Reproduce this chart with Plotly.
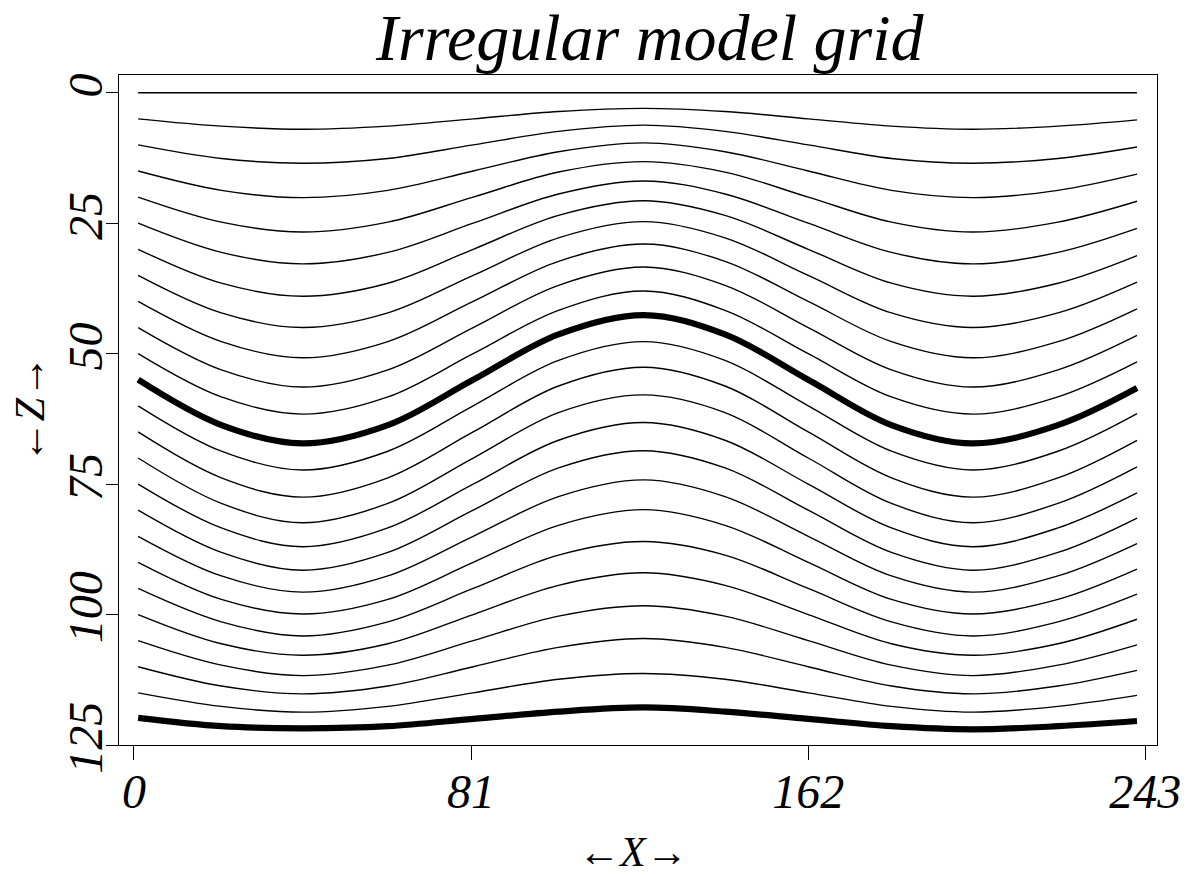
import plotly.graph_objects as go

# ---- data ----
x_samples = [1, 21, 40.5, 61, 81.5, 102, 122.5, 142, 162, 182, 201.5, 222, 241]

line_00 = [0.0, 0.0, 0.0, 0.0, 0.0, 0.0, 0.0, 0.0, 0.0, 0.0, 0.0, 0.0, 0.0]
line_01 = [5.0, 6.4, 7.0, 6.4, 5.0, 3.6, 3.0, 3.6, 5.0, 6.4, 7.0, 6.4, 5.2]
line_02 = [10.0, 12.6, 13.5, 12.6, 10.0, 7.4, 6.2, 7.4, 10.0, 12.6, 13.5, 12.6, 10.4]
line_03 = [15.0, 18.7, 20.1, 18.7, 15.0, 11.3, 9.6, 11.3, 15.0, 18.7, 20.1, 18.7, 15.6]
line_04 = [20.0, 24.8, 26.7, 24.8, 20.0, 15.2, 13.2, 15.2, 20.0, 24.8, 26.7, 24.8, 20.8]
line_05 = [25.0, 30.6, 32.8, 30.6, 25.0, 19.4, 16.9, 19.4, 25.0, 30.6, 32.8, 30.6, 26.0]
line_06 = [30.0, 36.5, 39.0, 36.5, 30.0, 23.5, 20.7, 23.5, 30.0, 36.5, 39.0, 36.5, 31.2]
line_07 = [35.0, 42.2, 45.0, 42.2, 35.0, 27.8, 24.7, 27.8, 35.0, 42.2, 45.0, 42.2, 36.3]
line_08 = [40.0, 47.7, 50.8, 47.7, 40.0, 32.3, 29.0, 32.3, 40.0, 47.7, 50.8, 47.7, 41.4]
line_09 = [45.0, 53.1, 56.4, 53.1, 45.0, 36.9, 33.4, 36.9, 45.0, 53.1, 56.4, 53.1, 46.5]
line_10 = [50.0, 58.3, 61.6, 58.3, 50.0, 41.7, 38.0, 41.7, 50.0, 58.3, 61.6, 58.3, 51.6]
line_11 = [55.0, 63.7, 67.2, 63.7, 55.0, 46.3, 42.6, 46.3, 55.0, 63.7, 67.2, 63.7, 56.6]
line_12 = [60.0, 68.7, 72.3, 68.7, 60.0, 51.3, 47.7, 51.3, 60.0, 68.7, 72.3, 68.7, 61.5]
line_13 = [65.0, 73.8, 77.5, 73.8, 65.0, 56.2, 52.6, 56.2, 65.0, 73.8, 77.5, 73.8, 66.6]
line_14 = [70.0, 78.7, 82.4, 78.7, 70.0, 61.3, 57.9, 61.3, 70.0, 78.7, 82.4, 78.7, 71.7]
line_15 = [75.0, 83.4, 87.0, 83.4, 75.0, 66.6, 63.2, 66.6, 75.0, 83.4, 87.0, 83.4, 76.7]
line_16 = [80.0, 88.1, 91.5, 88.1, 80.0, 71.9, 68.6, 71.9, 80.0, 88.1, 91.5, 88.1, 81.5]
line_17 = [85.0, 92.6, 95.7, 92.6, 85.0, 77.4, 74.2, 77.4, 85.0, 92.6, 95.7, 92.6, 86.4]
line_18 = [90.0, 97.1, 99.9, 97.1, 90.0, 82.9, 79.9, 82.9, 90.0, 97.1, 99.9, 97.1, 91.3]
line_19 = [95.0, 101.4, 104.1, 101.4, 95.0, 88.6, 86.0, 88.6, 95.0, 101.4, 104.1, 101.4, 96.1]
line_20 = [100.0, 105.6, 107.8, 105.6, 100.0, 94.4, 92.0, 94.4, 100.0, 105.6, 107.8, 105.6, 100.9]
line_21 = [105.0, 109.7, 111.7, 109.7, 105.0, 100.3, 98.3, 100.3, 105.0, 109.7, 111.7, 109.7, 105.8]
line_22 = [110.0, 113.7, 115.2, 113.7, 110.0, 106.3, 104.6, 106.3, 110.0, 113.7, 115.2, 113.7, 110.7]
line_23 = [115.0, 117.6, 118.7, 117.6, 115.0, 112.4, 111.3, 112.4, 115.0, 117.6, 118.7, 117.6, 115.5]
line_24 = [119.8, 121.4, 121.8, 121.4, 120.0, 118.6, 117.8, 118.6, 120.0, 121.4, 122.0, 121.4, 120.4]

grid_lines = [line_00, line_01, line_02, line_03, line_04, line_05, line_06,
              line_07, line_08, line_09, line_10, line_11, line_12, line_13,
              line_14, line_15, line_16, line_17, line_18, line_19, line_20,
              line_21, line_22, line_23, line_24]
thick_index = [11, 24]

x_ticks = [0, 81, 162, 243]
z_ticks = [0, 25, 50, 75, 100, 125]

title_text = "Irregular model grid"
x_title = "←<i>X</i>→"
z_title = "←<i>Z</i>→"

# ---- figure ----
SERIF = "Liberation Serif"
fig = go.Figure()

order = [i for i in range(len(grid_lines)) if i not in thick_index] + thick_index
for i in order:
    thick = i in thick_index
    fig.add_trace(go.Scatter(
        x=x_samples, y=grid_lines[i], mode="lines",
        line=dict(color="black", width=6.2 if thick else 1.4,
                  shape="spline", smoothing=1.0),
        hoverinfo="skip", showlegend=False))

tickfont = dict(family=SERIF, size=48, color="black", style="italic")

fig.update_layout(
    width=1193, height=877,
    margin=dict(l=119, r=34, t=75, b=132),
    paper_bgcolor="white", plot_bgcolor="white",
    xaxis=dict(range=[-3.6, 245.8], tickvals=x_ticks, ticks="outside",
               ticklen=14, tickwidth=1.3, tickcolor="black",
               ticklabelstandoff=-10,
               showline=True, linecolor="black", linewidth=1.3, mirror=True,
               showgrid=False, zeroline=False, tickfont=tickfont),
    yaxis=dict(range=[125, -3.4], tickvals=z_ticks, ticks="outside",
               ticklen=12, tickwidth=1.3, tickcolor="black", tickangle=-90,
               ticklabelstandoff=-15,
               showline=True, linecolor="black", linewidth=1.3, mirror=True,
               showgrid=False, zeroline=False, tickfont=tickfont),
    annotations=[
        dict(text=title_text, xref="paper", yref="paper", x=0.512, y=1.0555,
             xanchor="center", yanchor="middle", showarrow=False,
             font=dict(family=SERIF, size=66, color="black", style="italic")),
        dict(text=x_title, xref="paper", yref="paper", x=0.495, y=-0.160,
             xanchor="center", yanchor="middle", showarrow=False,
             font=dict(family=SERIF, size=42, color="black")),
        dict(text=z_title, xref="paper", yref="paper", x=-0.0856, y=0.5,
             xanchor="center", yanchor="middle", showarrow=False, textangle=-90,
             font=dict(family=SERIF, size=42, color="black")),
    ],
)

fig.write_html("out.html")
